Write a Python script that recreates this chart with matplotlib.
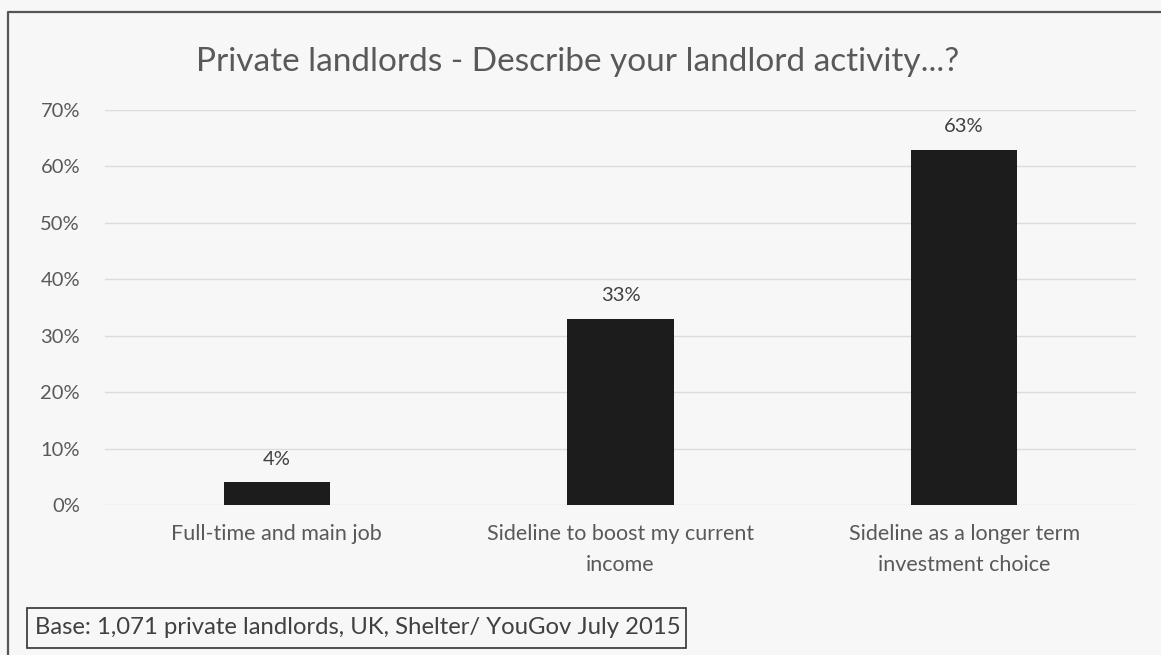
import matplotlib.pyplot as plt
from matplotlib.lines import Line2D
from matplotlib.patches import Rectangle

categories = ['Full-time and main job',
              'Sideline to boost my current\nincome',
              'Sideline as a longer term\ninvestment choice']
values = [4, 33, 63]
yticks = [0, 10, 20, 30, 40, 50, 60, 70]

plt.rcParams['font.family'] = ['Lato', 'DejaVu Sans']

bg = '#f7f7f7'
fig = plt.figure(figsize=(11.61, 6.55), dpi=100, facecolor=bg)
ax = fig.add_axes([105/1161, 1-505/655, (1136-105)/1161, (505-110)/655])
ax.set_facecolor(bg)

x = range(len(categories))
ax.bar(x, values, width=0.31, color='#1c1c1c', zorder=3)
for i, v in zip(x, values):
    ax.text(i, v + 2.6, f'{v}%', ha='center', va='bottom', fontsize=14.5, color='#404040')

ax.set_xlim(-0.5, 2.5)
ax.set_ylim(0, 70)
ax.set_yticks(yticks)
ax.set_yticklabels([f'{t}%' for t in yticks])
ax.set_xticks(list(x))
ax.set_xticklabels(categories, linespacing=1.65)
ax.tick_params(axis='both', length=0, labelcolor='#595959')
ax.tick_params(axis='y', pad=18, labelsize=14.5)
ax.tick_params(axis='x', pad=14, labelsize=15.5)
ax.yaxis.grid(True, color='#dcdcdc', linewidth=1)
ax.set_axisbelow(True)
for s in ax.spines.values():
    s.set_visible(False)

fig.text(578/1161, 1-62/655, 'Private landlords - Describe your landlord activity...?',
         ha='center', va='center', fontsize=24, color='#595959')

# outer frame (left and top only visible)
fig.add_artist(Line2D([8/1161, 8/1161, 1.0], [0, 1-12/655, 1-12/655],
                      color='#555555', linewidth=1.6, transform=fig.transFigure))

# source box
fig.add_artist(Rectangle((27/1161, 1-648/655), (686-27)/1161, 40/655,
                         fill=False, edgecolor='#333333', linewidth=1.2,
                         transform=fig.transFigure))
fig.text(35/1161, 1-628/655, 'Base: 1,071 private landlords, UK, Shelter/ YouGov July 2015',
         ha='left', va='center', fontsize=17.2, color='#404040')

fig.savefig('out.png', dpi=100, facecolor=bg)
